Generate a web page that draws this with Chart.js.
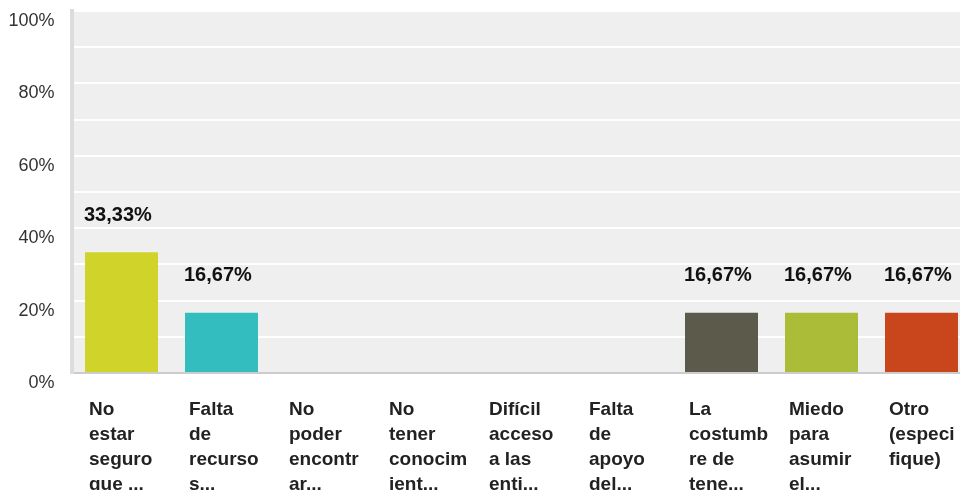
<!DOCTYPE html>
<html>
<head>
<meta charset="utf-8">
<script src="https://cdn.jsdelivr.net/npm/chart.js@4/dist/chart.umd.min.js"></script>
<style>
  html, body { margin: 0; padding: 0; background: #fff; overflow: hidden; }
  #c { display: block; }
</style>
</head>
<body>
<canvas id="c" width="990" height="490" style="width:990px;height:490px"></canvas>
<script>
const categories = [
  ["No", "estar", "seguro", "que ..."],
  ["Falta", "de", "recurso", "s..."],
  ["No", "poder", "encontr", "ar..."],
  ["No", "tener", "conocim", "ient..."],
  ["Difícil", "acceso", "a las", "enti..."],
  ["Falta", "de", "apoyo", "del..."],
  ["La", "costumb", "re de", "tene..."],
  ["Miedo", "para", "asumir", "el..."],
  ["Otro", "(especi", "fique)"]
];
const values = [33.33, 16.67, 0, 0, 0, 0, 16.67, 16.67, 16.67];
const valueLabels = ["33,33%", "16,67%", "0,00%", "0,00%", "0,00%", "0,00%", "16,67%", "16,67%", "16,67%"];
const barColors = ["#d0d32a", "#33bdbe", "#f1b42f", "#7d5fa8", "#e7663f", "#2f82b4", "#5c5a4b", "#abbd38", "#c9461d"];
const yTickValues = [0, 20, 40, 60, 80, 100];

const plotBg = {
  id: 'plotBg',
  beforeDraw(chart) {
    const {ctx, chartArea: a} = chart;
    ctx.save();
    ctx.fillStyle = '#efefef';
    ctx.fillRect(a.left, a.top, a.right - a.left, a.bottom - a.top);
    ctx.restore();
  }
};

const valueLabelPlugin = {
  id: 'valueLabels',
  afterDatasetsDraw(chart) {
    const {ctx} = chart;
    const meta = chart.getDatasetMeta(0);
    ctx.save();
    ctx.font = 'bold 20px "Liberation Sans", Arial, sans-serif';
    ctx.fillStyle = '#111';
    ctx.textAlign = 'left';
    ctx.textBaseline = 'middle';
    meta.data.forEach((bar, i) => {
      if (values[i] <= 0) return;
      const left = bar.x - bar.width / 2 - 1;
      ctx.fillText(valueLabels[i], left, bar.y - 37);
    });
    ctx.restore();
  }
};

new Chart(document.getElementById('c'), {
  type: 'bar',
  data: {
    labels: categories,
    datasets: [{
      data: values,
      backgroundColor: barColors,
      borderWidth: 0,
      categoryPercentage: 1.0,
      barPercentage: 0.73
    }]
  },
  options: {
    responsive: false,
    maintainAspectRatio: false,
    animation: false,
    events: [],
    layout: { padding: { left: 8, right: 18.5, top: 11, bottom: 0 } },
    plugins: { legend: { display: false }, tooltip: { enabled: false } },
    scales: {
      x: {
        grid: { display: false, drawTicks: false },
        border: { display: true, color: '#cccccc', width: 2 },
        ticks: {
          autoSkip: false,
          maxRotation: 0,
          minRotation: 0,
          align: 'start',
          labelOffset: -32.5,
          padding: 24,
          color: '#222',
          font: { family: '"Liberation Sans", Arial, sans-serif', size: 19, weight: 'bold', lineHeight: 25/19 }
        },
        afterFit(scale) {
          scale.height = 117;
          scale.paddingLeft = 0; scale.paddingRight = 0;
          scale.paddingTop = 0; scale.paddingBottom = 0;
        }
      },
      y: {
        min: 0,
        max: 100,
        grid: { color: '#ffffff', lineWidth: 2, drawTicks: false },
        border: { display: true, color: '#dcdcdc', width: 4 },
        ticks: {
          stepSize: 10,
          padding: 17,
          labelOffset: 10,
          color: '#333',
          font: { family: '"Liberation Sans", Arial, sans-serif', size: 18 },
          callback: (v) => yTickValues.includes(v) ? v + '%' : ''
        },
        afterFit(scale) {
          scale.width = 63.5;
          scale.paddingLeft = 0; scale.paddingRight = 0;
          scale.paddingTop = 0; scale.paddingBottom = 0;
        }
      }
    }
  },
  plugins: [plotBg, valueLabelPlugin]
});
</script>
</body>
</html>
